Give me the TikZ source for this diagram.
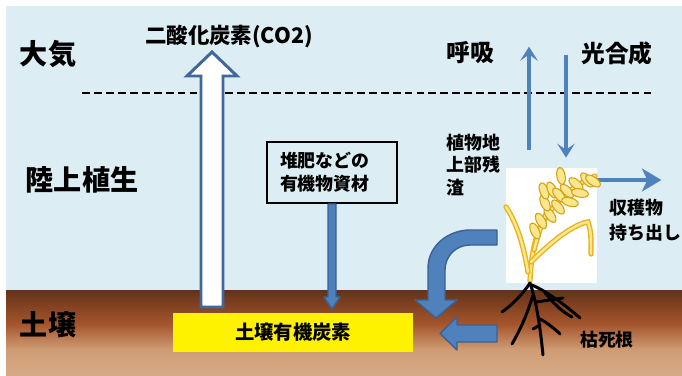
\documentclass[tikz,border=0pt]{standalone}
\usepackage{fontspec}
\setmainfont{Noto Sans CJK JP}
\usetikzlibrary{arrows.meta,calc}

\definecolor{sky}{RGB}{220,238,244}
\definecolor{soiltop}{RGB}{100,50,24}
\definecolor{soilrust}{RGB}{165,85,44}
\definecolor{soiltan}{RGB}{207,156,116}
\definecolor{soilbot}{RGB}{214,170,134}
\definecolor{flowblue}{RGB}{79,129,189}
\definecolor{flowedge}{RGB}{58,98,148}
\definecolor{co2edge}{RGB}{65,104,154}
\definecolor{grainfill}{RGB}{250,230,140}
\definecolor{grainedge}{RGB}{214,160,20}
\definecolor{stalkgold}{RGB}{232,180,30}

\pgfdeclareverticalshading{soilgrad}{100bp}{color(0bp)=(soilbot); color(25bp)=(soilbot);
  color(40bp)=(soiltan); color(55bp)=(soilrust); color(75bp)=(soiltop); color(100bp)=(soiltop)}

% one rice grain: x, y, tilt
\newcommand\ricegrain[3]{\filldraw[fill=grainfill,draw=grainedge,line width=0.6pt,
  rotate around={#3:(#1,#2)}] (#1,#2) ellipse [x radius=4.2,y radius=8.5];}

\begin{document}
\begin{tikzpicture}[x=0.02cm,y=-0.02cm,
  zone/.style={font=\bfseries\fontsize{16}{19}\selectfont},
  flux/.style={font=\bfseries\fontsize{13.5}{16}\selectfont},
  note/.style={font=\bfseries\fontsize{10.2}{13}\selectfont,align=left,inner sep=0},
  fat/.style={fill=flowblue,draw=flowedge,line width=0.8pt,line join=round},
  flowarrow/.style={draw=flowblue,line width=2.8pt,-{Stealth[length=8pt,width=10pt,inset=3.5pt]}},
  stalk/.style={draw=stalkgold,double=grainfill,double distance=1.4pt,line width=0.8pt,line cap=round},
  root/.style={line width=1.7pt,line cap=round,line join=round}]

\useasboundingbox (0,0) rectangle (682,375);
\fill[white] (0,0) rectangle (682,375);

% sky and soil
\fill[sky] (6,6) rectangle (682,290);
\shade[shading=soilgrad] (6,290) rectangle (682,375);
\draw[line width=1.2pt,dash pattern=on 4.5pt off 2.3pt] (82,93) -- (655,93);

% zone names
\node[zone] (air) at (48,54) {大気};
\node[zone] (veg) at (82,180) {陸上植生};
\node[zone] (soil) at (48,325) {土壌};

% labels
\node[font=\bfseries\fontsize{12.2}{14}\selectfont] (co2) at (229,36) {二酸化炭素(CO2)};
\node[flux] (resp) at (470,53) {呼吸};
\node[flux] (photo) at (617,53) {光合成};
\node[note,anchor=west] (residue) at (446,165) {植物地\\上部残\\渣};
\node[note,anchor=west,font=\bfseries\fontsize{10.2}{14}\selectfont] (harvest) at (609,220) {収穫物\\持ち出し};
\node[note] (deadroot) at (607,340) {枯死根};

% boxes
\node[draw,line width=1.1pt,note,text width=2.08cm,inner xsep=0.26cm,
  minimum height=1.22cm] (manure) at (332,172.5) {堆肥などの\\有機物資材};
\node[fill=yellow,minimum width=4.8cm,minimum height=0.78cm,
  font=\bfseries\fontsize{11}{13}\selectfont] (soc) at (293,332.5) {土壌有機炭素};
\node[fill=white,minimum width=1.82cm,minimum height=2.3cm,inner sep=0] (plant) at (551.5,225.5) {};

% CO2 release from soil
\filldraw[fill=white,draw=co2edge,line width=1.7pt]
  (201,307) -- (201,76) -- (187,76) -- (212,52) -- (237,76) -- (223,76) -- (223,307) -- cycle;

% manure into soil
\filldraw[fat] ($(manure.south)+(-4,0)$) -- ++(0,93) -- ++(-4,0) -- ++(8,12)
  -- ++(8,-12) -- ++(-4,0) -- ++(0,-93) -- cycle;

% residue and roots into soil carbon
\filldraw[fat] (497,230) -- (470,230) .. controls (448,230) and (428,246) .. (428,268)
  -- (428,300) -- (415,300) -- (436,318) -- (457,300) -- (445,300) -- (445,270)
  .. controls (445,256) and (456,245) .. (470,245) -- (497,245) -- cycle;
\filldraw[fat] (497,325) -- (457,325) -- (457,317) -- (440,333.5) -- (457,350)
  -- (457,342) -- (497,342) -- cycle;

% plant fluxes
\draw[flowarrow] ($(plant.north)+(-22.5,-18)$) -- ++(0,-103);
\draw[flowarrow] ($(plant.north)+(14.5,-113)$) -- ++(0,103);
\draw[flowarrow,-{Stealth[length=11pt,width=13pt,inset=3pt]}] (plant.east |- 0,180) -- ++(64,0);

% rice plant
\draw[stalk] (530,281) .. controls (531,258) and (534,242) .. (540,228)
  .. controls (552,205) and (568,188) .. (595,176);
\draw[stalk] (528,272) .. controls (523,242) and (516,222) .. (506,207);
\draw[stalk] (531,262) .. controls (555,238) and (575,224) .. (588,222)
  .. controls (591,232) .. (591,254);
\draw[stalk] (534,250) .. controls (538,235) and (542,222) .. (548,210);
\ricegrain{535}{231}{25}
\ricegrain{541}{221}{30}
\ricegrain{550}{215}{35}
\ricegrain{545}{203}{25}
\ricegrain{558}{207}{40}
\ricegrain{544}{191}{20}
\ricegrain{552}{190}{25}
\ricegrain{559}{195}{40}
\ricegrain{570}{202}{75}
\ricegrain{567}{191}{45}
\ricegrain{576}{184}{50}
\ricegrain{580}{193}{80}
\ricegrain{587}{180}{40}
\ricegrain{593}{181}{55}
\ricegrain{561}{176}{10}

% roots
\draw[root] (530,283) .. controls (522,295) and (512,305) .. (502,312);
\draw[root] (530,283) .. controls (536,300) and (540,325) .. (543,355);
\draw[root] (533,295) .. controls (527,315) and (520,330) .. (512,344);
\draw[root] (532,285) .. controls (548,292) and (565,305) .. (580,318);
\draw[root] (536,302) -- (563,298);
\draw[root] (538,318) .. controls (546,322) and (554,328) .. (560,334);
\draw[root] (540,325) -- (533,329);
\draw[root] (545,293) .. controls (552,300) and (556,308) .. (572,317);
\end{tikzpicture}
\end{document}
